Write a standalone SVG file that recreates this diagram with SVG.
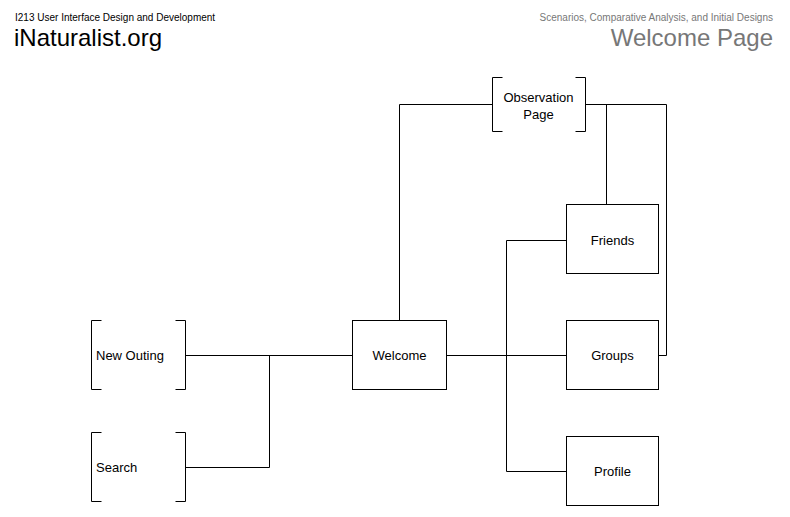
<svg xmlns="http://www.w3.org/2000/svg" width="790" height="517" viewBox="0 0 790 517">
<style>
.n{fill:#fff;stroke:#000;stroke-width:1}
.b{fill:none;stroke:#000;stroke-width:1}
.t{font-family:"Liberation Sans",Arial,sans-serif;font-size:13px;fill:#000}
.c{fill:none;stroke:#000;stroke-width:1}
</style>
<rect width="790" height="517" fill="#fff"/>
<text x="15" y="21" style="font-family:'Liberation Sans',Arial,sans-serif;font-size:10px">I213 User Interface Design and Development</text>
<text x="14" y="46" style="font-family:'Liberation Sans',Arial,sans-serif;font-size:24px">iNaturalist.org</text>
<text x="773" y="21" text-anchor="end" style="font-family:'Liberation Sans',Arial,sans-serif;font-size:10px;fill:#777">Scenarios, Comparative Analysis, and Initial Designs</text>
<text x="773" y="46" text-anchor="end" style="font-family:'Liberation Sans',Arial,sans-serif;font-size:24px;fill:#777">Welcome Page</text>
<g id="connectors">
<path class="c" d="M185.5 355.5H352.5M185.5 467.5H269.5V355.5M399.5 320V104.5H492.5M585.5 104.5H666.5V355.5H658.5M606.5 104.5V204M446.5 355.5H566.5M506.5 240.5V471.5M506.5 240.5H566.5M506.5 471.5H566.5"/>
</g>
<g id="observation">
<path class="b" d="M502.5 77.5H492.5V131.5H502.5M575.5 77.5H585.5V131.5H575.5"/>
<text class="t" x="538.5" y="102" text-anchor="middle">Observation</text>
<text class="t" x="538.5" y="119" text-anchor="middle">Page</text>
</g>
<g id="newouting">
<path class="b" d="M101.5 320.5H91.5V389.5H101.5M175.5 320.5H185.5V389.5H175.5"/>
<text class="t" x="96" y="360">New Outing</text>
</g>
<g id="search">
<path class="b" d="M101.5 432.5H91.5V501.5H101.5M175.5 432.5H185.5V501.5H175.5"/>
<text class="t" x="96" y="472">Search</text>
</g>
<g id="welcome">
<rect class="n" x="352.5" y="320.5" width="94" height="69"/>
<text class="t" x="399.5" y="360" text-anchor="middle">Welcome</text>
</g>
<g id="friends">
<rect class="n" x="566.5" y="204.5" width="92" height="69"/>
<text class="t" x="612.5" y="245" text-anchor="middle">Friends</text>
</g>
<g id="groups">
<rect class="n" x="566.5" y="320.5" width="92" height="69"/>
<text class="t" x="612.5" y="360" text-anchor="middle">Groups</text>
</g>
<g id="profile">
<rect class="n" x="566.5" y="436.5" width="92" height="69"/>
<text class="t" x="612.5" y="476" text-anchor="middle">Profile</text>
</g>
</svg>
